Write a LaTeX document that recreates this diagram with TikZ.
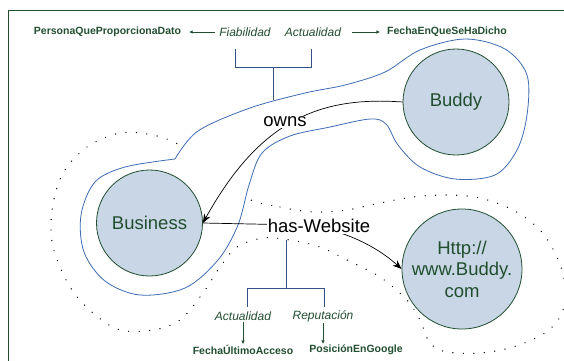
\documentclass[tikz,border=0pt]{standalone}
\usepackage{fontspec}
\setmainfont{Liberation Sans}
\usetikzlibrary{arrows.meta}

\definecolor{leaf}{RGB}{34,78,48}
\definecolor{disc}{RGB}{200,214,229}
\definecolor{loopblue}{RGB}{62,108,178}
\definecolor{bracketblue}{RGB}{52,82,132}

\tikzset{
  entity/.style={circle, draw=leaf, line width=0.8pt, fill=disc, text=leaf,
    font=\fontsize{18.5}{21.5}\selectfont, align=center, inner sep=0pt},
  rel/.style={fill=white, inner sep=1pt, font=\fontsize{18.5}{21.5}\selectfont},
  quality/.style={text=leaf, font=\fontsize{12}{14}\selectfont\itshape, inner sep=1pt},
  datum/.style={text=leaf, font=\fontsize{10.5}{12}\selectfont\bfseries, inner sep=1pt},
  edge/.style={line width=0.7pt, -{Stealth[length=9pt,width=7pt]}},
  smallarrow/.style={leaf, line width=0.6pt, -{Latex[length=3.5pt,width=3.5pt]}},
  bracket/.style={bracketblue, line width=0.9pt},
  context/.style={loopblue, line width=0.8pt, fill=white},
  scope dots/.style={line width=1.4pt, line cap=round, dash pattern=on 0pt off 10.5pt}
}

\begin{document}
\begin{tikzpicture}[x=1pt, y=-1pt]
\useasboundingbox (0,0) rectangle (564,360);

% frame
\draw[leaf, line width=0.8pt] (8.5,380) -- (8.5,10) -- (590,10);

% dotted scope around Business and the website
\draw[scope dots] plot[smooth cycle, tension=0.55] coordinates {
  (247,198) (280,207) (313,212) (347,210) (380,203) (413,197) (447,195)
  (480,198) (513,210) (540,230) (557,257) (565,285) (562,313) (545,333)
  (513,347) (480,353) (447,352) (430,343) (420,320) (407,300) (380,277)
  (347,260) (320,247) (290,240) (263,238) (237,247) (220,267) (203,293)
  (180,320) (153,330) (120,330) (93,313) (70,287) (53,247) (52,210)
  (63,173) (87,147) (120,133) (153,135) (180,145) (215,168)};

% blue context around the owns statement
\draw[context] plot[smooth, tension=0.55] coordinates {
  (175,159) (198,131) (250,108) (305,93) (345,85) (385,72) (420,50)
  (465,39) (505,49) (527,75) (527,115) (517,150) (495,175) (455,179)
  (420,167) (398,145) (386,124) (370,119) (330,127) (290,136)
  (262,153) (249,185) (238,225) (218,260) (185,288) (140,295)
  (105,281) (84,252) (81,215) (95,182) (125,167) (175,159)};

% resources
\node[entity, minimum size=106pt] (bud) at (456,102) {Buddy};
\node[entity, minimum size=106pt] (bus) at (149.5,223) {Business};
\node[entity, minimum size=120pt] (web) at (462,269) {Http://\\www.Buddy.\\com};

% statements
\draw[edge] (bud.west) .. controls (320,96) and (260,120) .. (bus.east);
\node[rel] (owns) at (285,122) {owns};

\draw[edge] (bus.east) -- (300,225) .. controls (340,228) and (375,245) .. (web.west);
\node[rel] (hw) at (319,226) {has-Website};

% qualities of the owns context
\node[quality] (fia) at (245,32) {Fiabilidad};
\node[quality] (act) at (313,32) {Actualidad};
\node[datum] (pers) at (107.5,32) {PersonaQueProporcionaDato};
\node[datum] (fecha) at (447,32) {FechaEnQueSeHaDicho};
\draw[smallarrow, shorten <=3pt, shorten >=7pt] (fia.west) -- (pers.east);
\draw[smallarrow, shorten <=10pt, shorten >=6pt] (act.east) -- (fecha.west);

\coordinate (ctop) at (273,100);
\draw[bracket] (235,49) |- (311,67) -- (311,49);
\draw[bracket] (273,67) -- (ctop);

% qualities of the has-Website statement
\node[quality] (qa) at (243,316) {Actualidad};
\node[quality] (qr) at (323,316) {Reputación};
\node[datum] (fua) at (243,350) {FechaÚltimoAcceso};
\node[datum] (peg) at (356,350) {PosiciónEnGoogle};

\draw[bracket] (286,240) -- (286,288);
\draw[bracket] (247,307) |- (324,288) -- (324,307);
\draw[smallarrow] (qa.south) -- (qa.south |- fua.north);
\draw[smallarrow] (qr.south) -- (qr.south |- peg.north);
\end{tikzpicture}
\end{document}
